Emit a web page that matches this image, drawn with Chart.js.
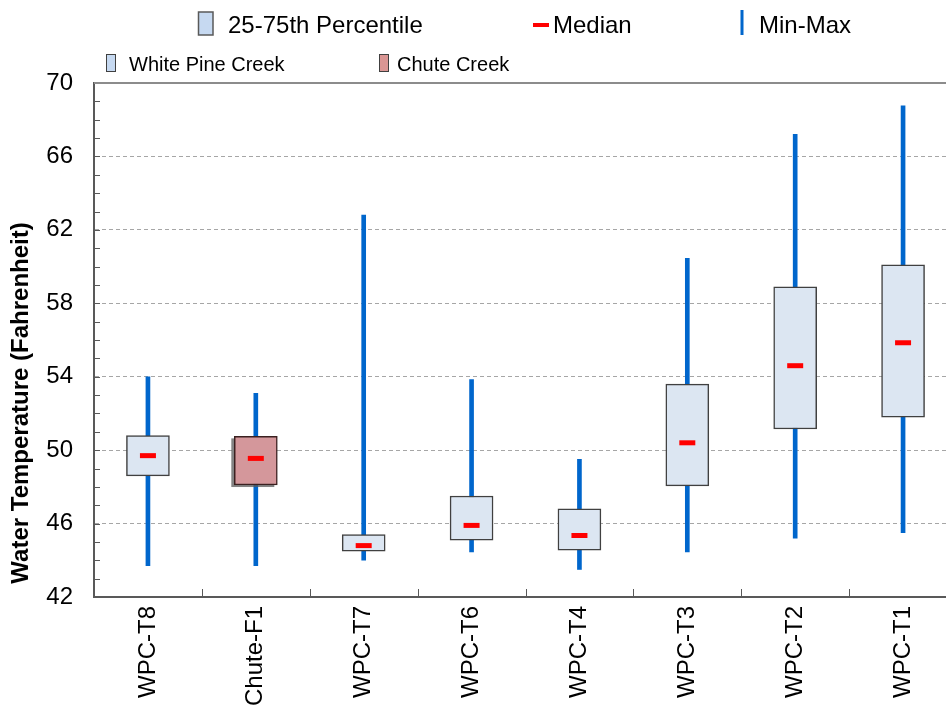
<!DOCTYPE html>
<html>
<head>
<meta charset="utf-8">
<title>Water Temperature by Site</title>
<script src="https://cdn.jsdelivr.net/npm/chart.js@4.4.1/dist/chart.umd.min.js"></script>
<style>
  html, body { margin: 0; padding: 0; background: #fff; overflow: hidden; }
  #wrap { width: 970px; height: 705px; }
</style>
</head>
<body>
<div id="wrap"><canvas id="chart" width="970" height="705"></canvas></div>
<script>
// Monitoring sites, upstream to downstream
const categories = ['WPC-T8', 'Chute-F1', 'WPC-T7', 'WPC-T6', 'WPC-T4', 'WPC-T3', 'WPC-T2', 'WPC-T1'];
// Which creek each site belongs to
const creekOfSite = ['wpc', 'chute', 'wpc', 'wpc', 'wpc', 'wpc', 'wpc', 'wpc'];
// Water temperature statistics (°F)
const minValues    = [43.7, 43.7, 44.0, 44.45, 43.5, 44.45, 45.2, 45.5];
const maxValues    = [54.0, 53.1, 62.8, 53.85, 49.5, 60.45, 67.2, 68.75];
const q1Values     = [48.6, 48.1, 44.5, 45.1, 44.55, 48.05, 51.15, 51.8];
const q3Values     = [50.8, 50.75, 45.4, 47.5, 46.8, 53.6, 58.9, 60.1];
const medianValues = [49.7, 49.55, 44.8, 45.9, 45.35, 50.4, 54.6, 55.85];
// Axis range and major ticks
const yMin = 42, yMax = 70, yStep = 4;

const FONT = '"Liberation Sans", Arial, sans-serif';
const BLUE = '#0066CC';
const RED = '#FF0000';
const WPC_FILL = '#DCE6F2';
const CHUTE_FILL = '#D4979B';
const AXIS = '#595959';

const whiskerData = categories.map((c, i) => [minValues[i], maxValues[i]]);
const wpcBoxData = categories.map((c, i) => creekOfSite[i] === 'wpc' ? [q1Values[i], q3Values[i]] : null);
const chuteBoxData = categories.map((c, i) => creekOfSite[i] === 'chute' ? [q1Values[i], q3Values[i]] : null);

// Extra drawing: inward axis ticks, top frame line, axis title, legend, box shadow
const decorations = {
  id: 'decorations',
  beforeDatasetDraw(chart, args) {
    if (chart.data.datasets[args.index].label !== 'Chute Creek') return;
    const ctx = chart.ctx;
    const meta = chart.getDatasetMeta(args.index);
    ctx.save();
    ctx.fillStyle = 'rgba(90,90,90,0.75)';
    meta.data.forEach((el, i) => {
      if (chuteBoxData[i] == null) return;
      const p = el.getProps(['x', 'y', 'base', 'width'], true);
      const top = Math.min(p.y, p.base), h = Math.abs(p.base - p.y);
      ctx.fillRect(p.x - p.width / 2 - 3, top + 2, p.width, h);
    });
    ctx.restore();
  },
  afterDraw(chart) {
    const ctx = chart.ctx;
    const area = chart.chartArea;
    const y = chart.scales.y, x = chart.scales.x;
    ctx.save();

    // top frame
    ctx.strokeStyle = '#8C8C8C';
    ctx.lineWidth = 2;
    ctx.beginPath();
    ctx.moveTo(area.left, area.top);
    ctx.lineTo(area.right, area.top);
    ctx.stroke();

    // y minor/major ticks pointing into the plot
    ctx.strokeStyle = AXIS;
    ctx.lineWidth = 1;
    ctx.beginPath();
    for (let v = yMin + 1; v < yMax; v++) {
      const py = Math.round(y.getPixelForValue(v)) + 0.5;
      ctx.moveTo(area.left, py);
      ctx.lineTo(area.left + 6, py);
    }
    // x ticks between categories pointing up
    for (let i = 1; i < categories.length; i++) {
      const px = Math.round((x.getPixelForValue(i - 1) + x.getPixelForValue(i)) / 2) + 0.5;
      ctx.moveTo(px, area.bottom);
      ctx.lineTo(px, area.bottom - 8);
    }
    ctx.stroke();

    // y axis title
    ctx.fillStyle = '#000';
    ctx.font = 'bold 24px ' + FONT;
    ctx.textAlign = 'center';
    ctx.textBaseline = 'middle';
    ctx.translate(21, 403);
    ctx.rotate(-Math.PI / 2);
    ctx.fillText('Water Temperature (Fahrenheit)', 0, 0);
    ctx.setTransform(1, 0, 0, 1, 0, 0);

    // legend, first row
    ctx.textAlign = 'left';
    ctx.textBaseline = 'alphabetic';
    ctx.font = '24px ' + FONT;
    ctx.fillStyle = '#C6D9F1';
    ctx.fillRect(198.5, 12, 14.5, 23);
    ctx.strokeStyle = '#595959';
    ctx.lineWidth = 1.5;
    ctx.strokeRect(198.5, 12, 14.5, 23);
    ctx.fillStyle = '#000';
    ctx.fillText('25-75th Percentile', 228, 33);

    ctx.fillStyle = RED;
    ctx.fillRect(533, 23, 16, 4);
    ctx.fillStyle = '#000';
    ctx.fillText('Median', 553, 33);

    ctx.fillStyle = BLUE;
    ctx.fillRect(740.5, 10, 3, 25);
    ctx.fillStyle = '#000';
    ctx.fillText('Min-Max', 759, 33);

    // legend, second row
    ctx.font = '20px ' + FONT;
    ctx.lineWidth = 1;
    ctx.fillStyle = '#C6D9F1';
    ctx.fillRect(106.5, 54.5, 9, 17);
    ctx.strokeStyle = '#404040';
    ctx.strokeRect(106.5, 54.5, 9, 17);
    ctx.fillStyle = '#000';
    ctx.fillText('White Pine Creek', 129, 71);

    ctx.fillStyle = '#DA9694';
    ctx.fillRect(379.5, 54.5, 9, 17);
    ctx.strokeStyle = '#404040';
    ctx.strokeRect(379.5, 54.5, 9, 17);
    ctx.fillStyle = '#000';
    ctx.fillText('Chute Creek', 397, 71);

    ctx.restore();
  }
};

new Chart(document.getElementById('chart'), {
  data: {
    labels: categories,
    datasets: [
      {
        type: 'bar',
        label: 'Min-Max',
        data: whiskerData,
        backgroundColor: BLUE,
        borderWidth: 0,
        barThickness: 4,
        grouped: false,
        order: 3
      },
      {
        type: 'bar',
        label: 'White Pine Creek',
        data: wpcBoxData,
        backgroundColor: WPC_FILL,
        borderColor: '#404040',
        borderWidth: 1.5,
        borderSkipped: false,
        barThickness: 43,
        grouped: false,
        order: 2
      },
      {
        type: 'bar',
        label: 'Chute Creek',
        data: chuteBoxData,
        backgroundColor: CHUTE_FILL,
        borderColor: '#3A2020',
        borderWidth: 1.5,
        borderSkipped: false,
        barThickness: 43,
        grouped: false,
        order: 2
      },
      {
        type: 'line',
        label: 'Median',
        data: medianValues,
        showLine: false,
        pointStyle: 'line',
        pointRadius: 8,
        pointHoverRadius: 8,
        pointBorderWidth: 5,
        pointBorderColor: RED,
        pointBackgroundColor: RED,
        borderColor: RED,
        order: 1
      }
    ]
  },
  options: {
    responsive: false,
    animation: false,
    devicePixelRatio: 1,
    layout: { padding: { top: 83, right: 5, bottom: 0, left: 0 } },
    plugins: {
      legend: { display: false },
      tooltip: { enabled: false }
    },
    scales: {
      x: {
        type: 'category',
        offset: true,
        grid: { display: false, drawTicks: false },
        border: { display: true, color: AXIS, width: 2 },
        ticks: {
          font: { family: FONT, size: 24 },
          color: '#000',
          minRotation: 90,
          maxRotation: 90,
          padding: 9,
          autoSkip: false
        },
        afterFit(scale) {
          scale.height = 108;
          scale.paddingLeft = 0;
          scale.paddingRight = 0;
        }
      },
      y: {
        type: 'linear',
        min: yMin,
        max: yMax,
        grid: {
          drawTicks: false,
          lineWidth: 1,
          color: (ctx) => (ctx.tick && (ctx.tick.value === yMin || ctx.tick.value === yMax)) ? 'rgba(0,0,0,0)' : '#A6A6A6'
        },
        border: { display: true, color: AXIS, width: 2, dash: [4, 3] },
        ticks: {
          stepSize: yStep,
          font: { family: FONT, size: 24 },
          color: '#000',
          padding: 21
        },
        afterFit(scale) {
          scale.width = 94;
          scale.paddingTop = 0;
          scale.paddingBottom = 0;
        }
      }
    }
  },
  plugins: [decorations]
});
</script>
</body>
</html>
